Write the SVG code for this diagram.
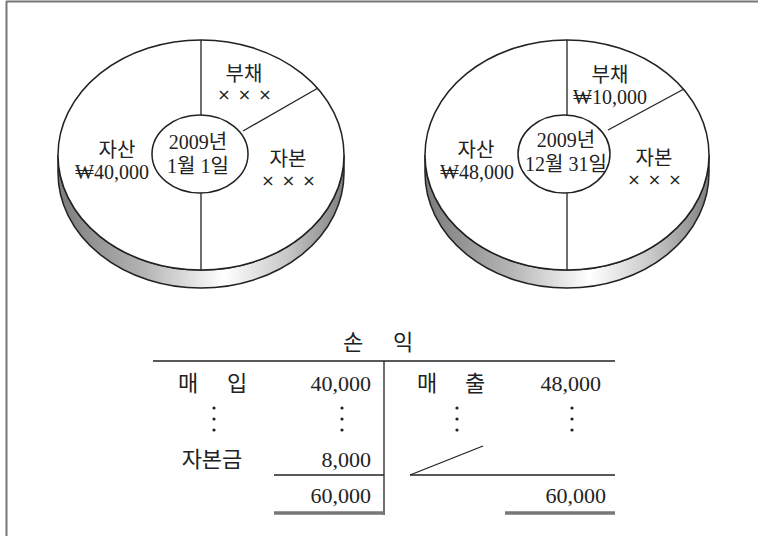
<svg xmlns="http://www.w3.org/2000/svg" width="758" height="536" viewBox="0 0 758 536">
<defs>
<linearGradient id="side1" gradientUnits="userSpaceOnUse" x1="58" y1="0" x2="344" y2="0">
<stop offset="0" stop-color="#7c7c7c"/><stop offset="0.3" stop-color="#b4b4b4"/><stop offset="0.58" stop-color="#ffffff"/><stop offset="0.8" stop-color="#c8c8c8"/><stop offset="1" stop-color="#808080"/>
</linearGradient>
<linearGradient id="side2" gradientUnits="userSpaceOnUse" x1="425" y1="0" x2="709" y2="0">
<stop offset="0" stop-color="#7c7c7c"/><stop offset="0.3" stop-color="#b4b4b4"/><stop offset="0.58" stop-color="#ffffff"/><stop offset="0.8" stop-color="#c8c8c8"/><stop offset="1" stop-color="#808080"/>
</linearGradient>
<style>
.ln{stroke:#222;stroke-width:1.3;fill:none}
.face{fill:#fff;stroke:#222;stroke-width:1.5}
.t{font-family:"Liberation Serif","Noto Sans CJK KR",serif;font-size:20px;fill:#222;text-anchor:middle;dominant-baseline:central}
.x{font-family:"DejaVu Sans",sans-serif;font-size:16px;letter-spacing:1px}
.tt{font-family:"Liberation Serif","Noto Sans CJK KR",serif;font-size:22px;fill:#222;dominant-baseline:central}
.r{text-anchor:end}
.m{text-anchor:middle}
.dbl{stroke:#777;stroke-width:3.5}
.dot{fill:#222}
</style>
</defs>
<rect width="758" height="536" fill="#fff"/>
<g id="frame">
<line x1="6" y1="1.5" x2="758" y2="1.5" stroke="#777" stroke-width="2"/>
<line x1="6.5" y1="1" x2="6.5" y2="536" stroke="#777" stroke-width="2"/>
</g>

<g id="pie-jan1">
<path d="M58,155 L58,173 A143,115 0 0 0 344,173 L344,155 A143,115 0 0 1 58,155 Z" fill="url(#side1)" stroke="#222" stroke-width="1.5"/>
<ellipse class="face" cx="201" cy="155" rx="143" ry="115"/>
<line class="ln" x1="201" y1="40" x2="201" y2="115"/>
<line class="ln" x1="201" y1="193" x2="201" y2="270"/>
<line class="ln" x1="243" y1="131" x2="318" y2="88"/>
<ellipse class="face" cx="200" cy="154" rx="48" ry="39"/>
<text class="t" x="244" y="74">부채</text>
<text class="t x" x="245" y="94">× × ×</text>
<text class="t" x="117" y="150">자산</text>
<text class="t" x="112" y="172">₩40,000</text>
<text class="t" x="198" y="142">2009년</text>
<text class="t" x="198" y="166">1월 1일</text>
<text class="t" x="288" y="159">자본</text>
<text class="t x" x="289" y="180">× × ×</text>
</g>

<g id="pie-dec31">
<path d="M425,155 L425,173 A142,115 0 0 0 709,173 L709,155 A142,115 0 0 1 425,155 Z" fill="url(#side2)" stroke="#222" stroke-width="1.5"/>
<ellipse class="face" cx="567" cy="155" rx="142" ry="115"/>
<line class="ln" x1="567" y1="40" x2="567" y2="115"/>
<line class="ln" x1="567" y1="193" x2="567" y2="270"/>
<line class="ln" x1="608" y1="130" x2="684" y2="89"/>
<ellipse class="face" cx="564" cy="154" rx="46" ry="39"/>
<text class="t" x="610" y="75">부채</text>
<text class="t" x="610" y="97">₩10,000</text>
<text class="t" x="476" y="150">자산</text>
<text class="t" x="477" y="172">₩48,000</text>
<text class="t" x="566" y="140">2009년</text>
<text class="t" x="566" y="164">12월 31일</text>
<text class="t" x="654" y="158">자본</text>
<text class="t x" x="655" y="179">× × ×</text>
</g>

<g id="income-account">
<text class="tt m" x="353" y="342">손</text>
<text class="tt m" x="403" y="342">익</text>
<line class="ln" x1="153" y1="361" x2="615" y2="361"/>
<line class="ln" x1="384" y1="361" x2="384" y2="515"/>
<text class="tt m" x="188" y="383">매</text>
<text class="tt m" x="237" y="383">입</text>
<text class="tt r" x="371" y="383">40,000</text>
<text class="tt m" x="427" y="383">매</text>
<text class="tt m" x="475" y="383">출</text>
<text class="tt r" x="601" y="383">48,000</text>
<g class="dot">
<circle cx="214" cy="408" r="1.6"/><circle cx="214" cy="419" r="1.6"/><circle cx="214" cy="430" r="1.6"/>
<circle cx="342" cy="408" r="1.6"/><circle cx="342" cy="419" r="1.6"/><circle cx="342" cy="430" r="1.6"/>
<circle cx="457" cy="408" r="1.6"/><circle cx="457" cy="419" r="1.6"/><circle cx="457" cy="430" r="1.6"/>
<circle cx="572" cy="408" r="1.6"/><circle cx="572" cy="419" r="1.6"/><circle cx="572" cy="430" r="1.6"/>
</g>
<text class="tt m" x="212" y="459">자본금</text>
<text class="tt r" x="371" y="459">8,000</text>
<line class="ln" x1="274" y1="475" x2="384" y2="475"/>
<line class="ln" x1="410" y1="475" x2="615" y2="475"/>
<line class="ln" x1="410" y1="475" x2="483" y2="446"/>
<text class="tt r" x="371" y="495">60,000</text>
<text class="tt r" x="606" y="495">60,000</text>
<line class="dbl" x1="274" y1="513" x2="384" y2="513"/>
<line class="dbl" x1="505" y1="513" x2="615" y2="513"/>
</g>
</svg>
